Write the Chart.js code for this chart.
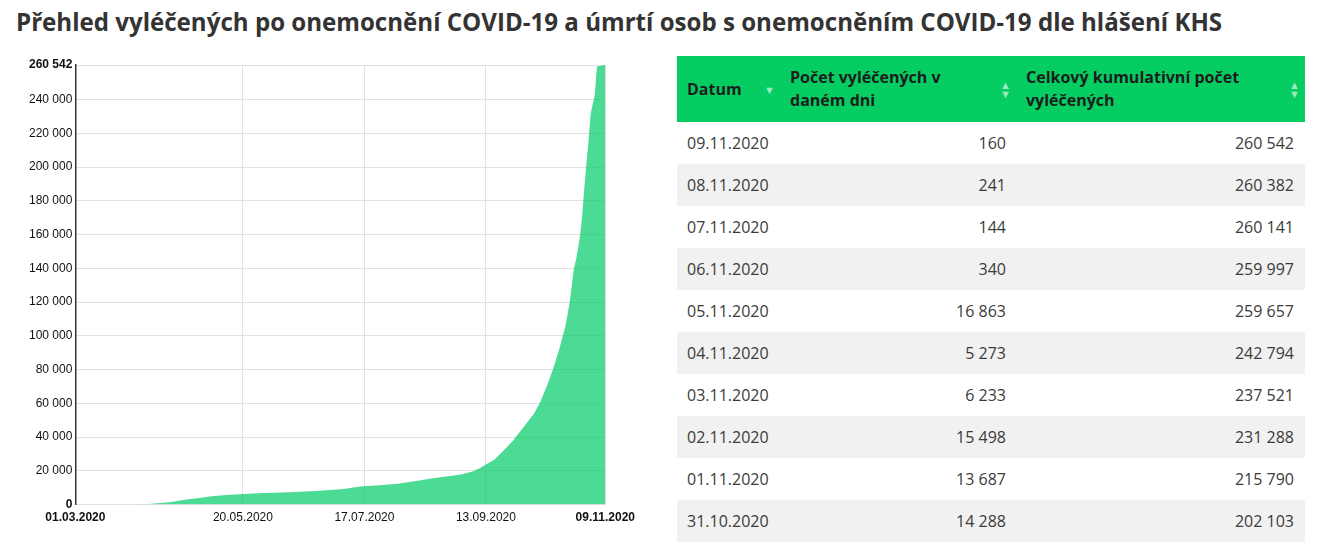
<!DOCTYPE html>
<html lang="cs">
<head>
<meta charset="utf-8">
<title>Přehled vyléčených</title>
<script src="https://cdn.jsdelivr.net/npm/chart.js@4.4.0/dist/chart.umd.min.js"></script>
<style>
  html, body { margin: 0; padding: 0; background: #fff; }
  body { width: 1326px; height: 549px; position: relative; overflow: hidden; font-family: "Open Sans", sans-serif; }
  h1 { position: absolute; left: 16px; top: 5px; margin: 0; font-size: 24.1px; font-weight: 700; color: #333; white-space: nowrap; }
  #chartBox { position: absolute; left: 0; top: 52px; width: 641px; height: 479px; }
  table { position: absolute; left: 677px; top: 56px; width: 628px; border-collapse: collapse; table-layout: fixed; }
  th { background: #05cd62; color: #1d1d1d; font-size: 16px; font-weight: 700; text-align: left; line-height: 23px; height: 66px; padding: 0 10px; box-sizing: border-box; position: relative; vertical-align: middle; }
  td { font-size: 16px; color: #3b3b3b; height: 42px; padding: 0 10px; box-sizing: border-box; }
  td.num { text-align: right; }
  td.num.last { padding-right: 11px; }
  tbody tr:nth-child(even) td { background: #f1f1f1; }
  .sort { position: absolute; right: 5px; top: 50%; transform: translateY(-50%); font-size: 11px; line-height: 9px; color: rgba(255,255,255,0.6); text-align: center; }
</style>
</head>
<body>
<h1>Přehled vyléčených po onemocnění COVID-19 a úmrtí osob s onemocněním COVID-19 dle hlášení KHS</h1>
<div id="chartBox"><canvas id="chart1"></canvas></div>
<table>
  <colgroup><col style="width:103px"><col style="width:236px"><col style="width:289px"></colgroup>
  <thead>
    <tr>
      <th>Datum<span class="sort">▼</span></th>
      <th>Počet vyléčených v<br>daném dni<span class="sort">▲<br>▼</span></th>
      <th>Celkový kumulativní počet<br>vyléčených<span class="sort">▲<br>▼</span></th>
    </tr>
  </thead>
  <tbody id="rows"></tbody>
</table>
<script>
// days since 01.03.2020 and cumulative recovered
var recoveredDays = [0, 20, 29, 35, 45, 54, 60, 65, 72, 80, 90, 102, 115, 128, 136, 145, 154, 162, 169, 177,
  184, 190, 193, 197, 200, 204, 209, 214, 219, 222, 225, 228, 231, 234, 236, 238, 239, 240, 241, 242,
  243, 244, 245, 246, 247, 248, 249, 250, 251, 252, 253];
var recoveredTotals = [0, 50, 100, 400, 1400, 3100, 4000, 4900, 5700, 6300, 6900, 7300, 8000, 9300, 10700, 11500, 12400, 13800, 15300, 16600,
  17900, 19800, 21500, 24500, 26600, 31500, 38000, 46000, 54000, 61000, 70000, 80000, 92000, 106000, 120000, 140000, 145000, 152000, 160000, 172000,
  188000, 202103, 215790, 231288, 237521, 242794, 259657, 259997, 260141, 260382, 260542];

var xTickDays = [0, 80, 138, 196, 253];
var xTickLabels = ['01.03.2020', '20.05.2020', '17.07.2020', '13.09.2020', '09.11.2020'];
var yTicks = [0, 20000, 40000, 60000, 80000, 100000, 120000, 140000, 160000, 180000, 200000, 220000, 240000, 260542];

// table
var tableDates = ['09.11.2020', '08.11.2020', '07.11.2020', '06.11.2020', '05.11.2020', '04.11.2020', '03.11.2020', '02.11.2020', '01.11.2020', '31.10.2020'];
var dailyRecovered = [160, 241, 144, 340, 16863, 5273, 6233, 15498, 13687, 14288];
var cumulativeRecovered = [260542, 260382, 260141, 259997, 259657, 242794, 237521, 231288, 215790, 202103];

function fmt(n) {
  return String(n).replace(/\B(?=(\d{3})+(?!\d))/g, ' ');
}

var html = '';
for (var i = 0; i < tableDates.length; i++) {
  html += '<tr><td>' + tableDates[i] + '</td><td class="num">' + fmt(dailyRecovered[i]) +
    '</td><td class="num last">' + fmt(cumulativeRecovered[i]) + '</td></tr>';
}
document.getElementById('rows').innerHTML = html;

var points = recoveredDays.map(function (d, i) { return { x: d, y: recoveredTotals[i] }; });

let ctx = document.getElementById('chart1');
var chart1 = new Chart(ctx, {
  type: 'line',
  data: {
    datasets: [{
      label: 'Vyléčení',
      data: points,
      backgroundColor: 'rgba(0, 204, 102, 0.7)',
      borderWidth: 0,
      pointRadius: 0,
      fill: 'origin',
      tension: 0
    }]
  },
  options: {
    responsive: true,
    maintainAspectRatio: false,
    animation: false,
    layout: { padding: { left: 26, right: 0, top: 13, bottom: 0 } },
    plugins: { legend: { display: false }, tooltip: { enabled: false } },
    scales: {
      x: {
        type: 'linear',
        min: 0,
        max: 253,
        afterBuildTicks: function (scale) {
          scale.ticks = xTickDays.map(function (v) { return { value: v }; });
        },
        ticks: {
          autoSkip: false,
          maxRotation: 0,
          color: '#111',
          padding: 6,
          font: function (c) {
            var last = c.index === 0 || c.index === xTickDays.length - 1;
            return { family: 'Liberation Sans, Arial', size: 12, weight: last ? 'bold' : 'normal' };
          },
          callback: function (value) {
            var k = xTickDays.indexOf(value);
            return k < 0 ? null : xTickLabels[k];
          }
        },
        grid: { color: '#e1e1e1', drawTicks: false },
        border: { display: false }
      },
      y: {
        min: 0,
        max: 260542,
        afterBuildTicks: function (scale) {
          scale.ticks = yTicks.map(function (v) { return { value: v }; });
        },
        ticks: {
          color: '#111',
          padding: 3,
          font: function (c) {
            var edge = c.index === 0 || c.index === yTicks.length - 1;
            return { family: 'Liberation Sans, Arial', size: 12, weight: edge ? 'bold' : 'normal' };
          },
          callback: function (value) { return fmt(value); }
        },
        grid: { color: '#e1e1e1', drawTicks: false },
        border: { color: '#333', width: 1.5 }
      }
    }
  }
});
</script>
</body>
</html>
